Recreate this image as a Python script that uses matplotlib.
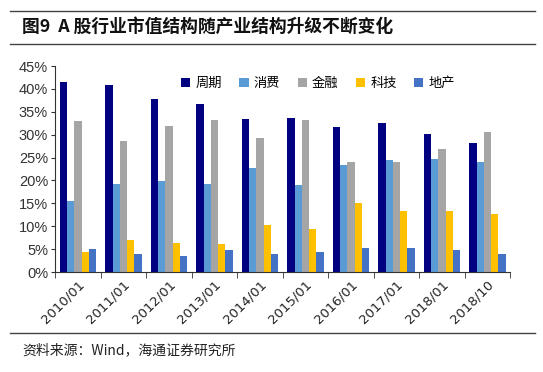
import matplotlib
matplotlib.use("Agg")
import matplotlib.pyplot as plt
import numpy as np
from matplotlib.ticker import MultipleLocator, FuncFormatter

plt.rcParams['font.family'] = ['Noto Sans CJK SC', 'DejaVu Sans']

categories = ["2010/01", "2011/01", "2012/01", "2013/01", "2014/01",
              "2015/01", "2016/01", "2017/01", "2018/01", "2018/10"]
series_names = ["周期", "消费", "金融", "科技", "地产"]
zhouqi = [41.6, 40.9, 37.9, 36.6, 33.4, 33.6, 31.7, 32.5, 30.2, 28.2]
xiaofei = [15.6, 19.2, 19.9, 19.2, 22.7, 18.9, 23.4, 24.4, 24.6, 24.0]
jinrong = [33.0, 28.7, 31.9, 33.2, 29.3, 33.2, 24.0, 24.0, 26.9, 30.6]
keji = [4.4, 7.0, 6.4, 6.1, 10.3, 9.5, 15.1, 13.4, 13.4, 12.6]
dichan = [5.0, 3.9, 3.6, 4.7, 3.9, 4.4, 5.2, 5.2, 4.7, 4.0]
series = [zhouqi, xiaofei, jinrong, keji, dichan]
colors = ["#000080", "#5B9BD5", "#A5A5A5", "#FFC000", "#4472C4"]

fig = plt.figure(figsize=(5.43, 3.72), dpi=100)
ax = fig.add_axes([55/543, 1-272/372, 455/543, 206/372])

n = len(categories)
x = np.arange(n)
bw = 0.16
for i, (name, vals, c) in enumerate(zip(series_names, series, colors)):
    ax.bar(x + (i - 2) * bw + 0.005, np.array(vals) / 100, width=bw, color=c,
           label=name, linewidth=0)

ax.set_xlim(-0.5, n - 0.5)
ax.set_ylim(0, 0.45)
ax.yaxis.set_major_locator(MultipleLocator(0.05))
ax.yaxis.set_major_formatter(FuncFormatter(lambda v, p: f"{v*100:.0f}%"))
ax.set_xticks(x)
ax.set_xticklabels(categories, rotation=45, ha='right', rotation_mode='anchor',
                   fontsize=9.5, color='#222222', family=['DejaVu Sans'])
ax.tick_params(axis='x', length=0, pad=4)
ax.set_xticks(np.arange(-0.5, n), minor=True)
ax.tick_params(axis='x', which='minor', length=4, direction='out', color='#333333')
ax.tick_params(axis='y', labelsize=10.5, labelcolor='#333333', length=3,
               direction='out', color='#333333', pad=2)
for lab in ax.get_yticklabels():
    lab.set_family(['Liberation Sans'])
for s in ['top', 'right']:
    ax.spines[s].set_visible(False)
ax.spines['left'].set_color('#333333')
ax.spines['bottom'].set_color('#333333')

leg = ax.legend(loc='upper right', bbox_to_anchor=(0.905, 1.005), ncol=5, frameon=False,
                fontsize=9.5, handlelength=0.7, handleheight=0.7, handletextpad=0.4,
                columnspacing=1.3)

# Title and rules
fig.add_artist(plt.Line2D([10/543, 535/543], [1-11/372, 1-11/372], color='#444444', lw=1.0))
fig.add_artist(plt.Line2D([10/543, 535/543], [1-44/372, 1-44/372], color='#444444', lw=1.0))
fig.add_artist(plt.Line2D([10/543, 535/543], [1-333/372, 1-333/372], color='#444444', lw=1.0))
fig.text(22/543, 1-27/372, "图9  A 股行业市值结构随产业结构升级不断变化", fontsize=12.8,
         fontweight='bold', va='center', ha='left', color='#111111')
fig.text(22/543, 1-350/372, "资料来源：Wind，海通证券研究所", fontsize=10,
         va='center', ha='left', color='#222222')

fig.savefig("out.png", dpi=100)
